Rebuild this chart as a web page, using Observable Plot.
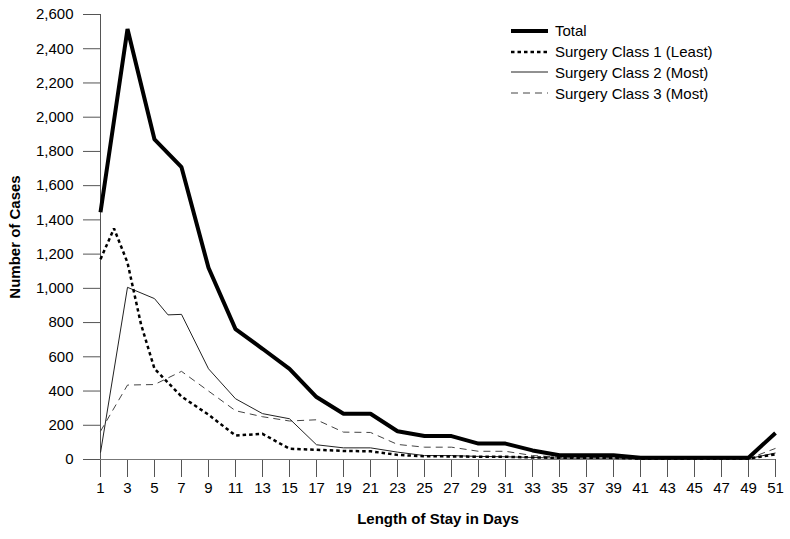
<!DOCTYPE html>
<html><head><meta charset="utf-8">
<script src="https://cdn.jsdelivr.net/npm/d3@7"></script>
<script src="https://cdn.jsdelivr.net/npm/@observablehq/plot@0.6"></script>
<style>
body{margin:0;background:#fff;font-family:"Liberation Sans",Arial,Helvetica,sans-serif;}
#wrap{position:relative;width:790px;height:539px;}
#legend{position:absolute;left:511px;top:20.5px;font-size:15px;color:#000;}
.row{display:flex;align-items:center;height:20.8px;white-space:nowrap;}
.row svg{width:37px;height:10px;margin-right:7px;flex:none;}
</style></head><body><div id="wrap"></div>
<script>
// Length of stay (days) and number of cases per series
const totalDays = [1,3,5,7,9,11,13,15,17,19,21,23,25,27,29,31,33,35,37,39,41,43,45,47,49,51];
const total     = [1445,2515,1870,1708,1120,762,647,530,365,267,267,165,137,137,93,93,53,25,25,25,10,10,10,10,10,155];

const class1Days = [1,2,3,4,5,7,9,11,13,15,17,19,21,23,25,27,29,31,33,35,37,39,41,43,45,47,49,51];
const class1     = [1170,1350,1150,790,530,368,262,140,150,63,57,50,48,27,19,18,16,16,12,10,10,10,5,5,5,5,5,30];

const class2Days = [1,3,5,6,7,9,11,13,15,17,19,21,23,25,27,29,31,33,35,37,39,41,43,45,47,49,51];
const class2     = [40,1006,940,845,848,530,355,268,238,86,68,68,43,23,23,18,16,12,8,8,8,5,5,5,5,5,38];

const class3Days = [1,3,5,7,9,11,13,15,17,19,21,23,25,27,29,31,33,35,37,39,41,43,45,47,49,51];
const class3     = [165,435,438,515,400,285,250,225,232,160,158,88,72,72,48,48,23,14,12,12,5,5,5,5,5,65];

const xTicks = [1,3,5,7,9,11,13,15,17,19,21,23,25,27,29,31,33,35,37,39,41,43,45,47,49,51];
const yTicks = [0,200,400,600,800,1000,1200,1400,1600,1800,2000,2200,2400,2600];

const seriesNames = ["Total","Surgery Class 1 (Least)","Surgery Class 2 (Most)","Surgery Class 3 (Most)"];
const styles = [
  {stroke:"#000", width:4, dash:null},
  {stroke:"#000", width:2.5, dash:"3.5,3"},
  {stroke:"#222", width:1, dash:null},
  {stroke:"#444", width:1, dash:"7,5"}
];

const toRows = (days, vals) => days.map((d, i) => ({day: d, cases: vals[i]}));
const tables = [toRows(totalDays,total), toRows(class1Days,class1), toRows(class2Days,class2), toRows(class3Days,class3)];

const lineMarks = tables.map((t, i) => Plot.line(t, {
  x: "day", y: "cases", stroke: styles[i].stroke, strokeWidth: styles[i].width,
  strokeDasharray: styles[i].dash, strokeLinejoin: "miter", strokeLinecap: "butt"
})).reverse();

const chart = Plot.plot({
  width: 790, height: 539,
  marginLeft: 100, marginRight: 15, marginTop: 14, marginBottom: 80,
  style: {fontFamily: '"Liberation Sans", Arial, Helvetica, sans-serif', fontSize: "15px", color: "#000", background: "#fff"},
  x: {domain: [1, 51]},
  y: {domain: [0, 2600]},
  marks: [
    Plot.axisY({ticks: yTicks, tickSize: 17, tickPadding: 10, tickFormat: d3.format(","), stroke: "#555", label: null}),
    Plot.axisX({ticks: xTicks, tickSize: 18, tickPadding: 5, tickFormat: d => d, stroke: "#555", label: null}),
    Plot.ruleY([0], {stroke: "#777"}),
    Plot.ruleX([1], {stroke: "#555"}),
    ...lineMarks,
    Plot.text(["Number of Cases"], {frameAnchor: "left", dx: -85, rotate: -90, textAnchor: "middle", text: d => d, fontWeight: "bold", fontSize: 15}),
    Plot.text(["Length of Stay in Days"], {frameAnchor: "bottom", dy: 64, textAnchor: "middle", text: d => d, fontWeight: "bold", fontSize: 15})
  ]
});

const wrap = document.getElementById("wrap");
wrap.appendChild(chart);

const legend = document.createElement("div");
legend.id = "legend";
seriesNames.forEach((name, i) => {
  const s = styles[i];
  const row = document.createElement("div");
  row.className = "row";
  row.innerHTML = `<svg viewBox="0 0 37 10"><line x1="0" x2="37" y1="5" y2="5" stroke="${s.stroke}" stroke-width="${s.width}" ${s.dash ? `stroke-dasharray="${s.dash}"` : ""}/></svg><span>${name}</span>`;
  legend.appendChild(row);
});
wrap.appendChild(legend);
</script>
</body></html>
